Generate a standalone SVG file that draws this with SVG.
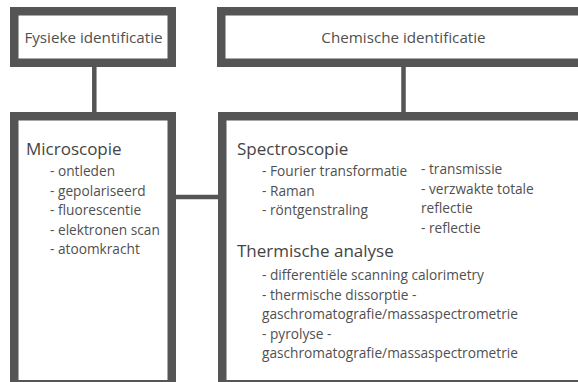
<svg xmlns="http://www.w3.org/2000/svg" width="578" height="382" viewBox="0 0 578 382">
<style>
.box{fill:#fff;stroke:#555;stroke-width:8.5}
.con{stroke:#555;stroke-width:4.5;fill:none}
text{font-family:"Open Sans","Noto Sans",sans-serif;fill:#505050}
.t{font-size:15.2px}
.h{font-size:17px;fill:#444}
.i{font-size:13.7px}
</style>
<rect width="578" height="382" fill="#fff"/>
<g id="connectors">
<line class="con" x1="94.3" y1="66" x2="94.3" y2="113"/>
<line class="con" x1="403.5" y1="66" x2="403.5" y2="113"/>
<line class="con" x1="175" y1="197" x2="218" y2="197"/>
</g>
<g id="fysiek">
<rect class="box" x="14.25" y="11.25" width="157.5" height="51.5"/>
<text class="t" x="93.5" y="43" text-anchor="middle">Fysieke identificatie</text>
</g>
<g id="chemisch">
<rect class="box" x="221.25" y="11.25" width="400" height="51.5"/>
<text class="t" x="403.5" y="43" text-anchor="middle">Chemische identificatie</text>
</g>
<g id="microscopie">
<rect class="box" x="14.25" y="116.25" width="157.5" height="268"/>
<text class="h" x="26" y="155">Microscopie</text>
<text class="i" x="50" y="176">- ontleden</text>
<text class="i" x="50" y="195.5">- gepolariseerd</text>
<text class="i" x="50" y="215">- fluorescentie</text>
<text class="i" x="50" y="234.5">- elektronen scan</text>
<text class="i" x="50" y="254">- atoomkracht</text>
</g>
<g id="spectroscopie">
<rect class="box" x="222.25" y="116.25" width="400" height="268"/>
<text class="h" x="237" y="155">Spectroscopie</text>
<text class="i" x="262" y="176">- Fourier transformatie</text>
<text class="i" x="262" y="195.5">- Raman</text>
<text class="i" x="262" y="215">- röntgenstraling</text>
<text class="i" x="421" y="174">- transmissie</text>
<text class="i" x="421" y="193.5">- verzwakte totale</text>
<text class="i" x="421" y="213">reflectie</text>
<text class="i" x="421" y="232.5">- reflectie</text>
<text class="h" x="237" y="257">Thermische analyse</text>
<text class="i" x="262" y="280">- differentiële scanning calorimetry</text>
<text class="i" x="262" y="299.5">- thermische dissorptie -</text>
<text class="i" x="262" y="319">gaschromatografie/massaspectrometrie</text>
<text class="i" x="262" y="338.5">- pyrolyse -</text>
<text class="i" x="262" y="358">gaschromatografie/massaspectrometrie</text>
</g>
</svg>
